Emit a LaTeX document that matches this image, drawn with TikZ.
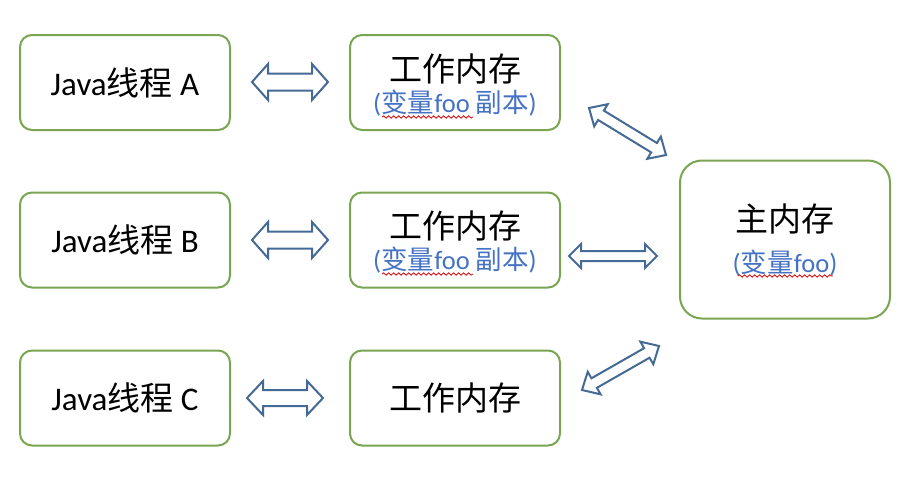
\documentclass[tikz,border=0pt]{standalone}
\usepackage{fontspec}
\setmainfont{Carlito}
\newfontfamily\cjk{Noto Sans CJK SC}
\usetikzlibrary{calc,decorations.pathmorphing}
\definecolor{boxgreen}{RGB}{122,165,82}
\definecolor{arrblue}{RGB}{70,106,150}
\definecolor{txtblue}{RGB}{68,114,196}
\newcommand\blockarrow[6]{% #1 name-tip1 #2 name-tip2 #3 shaft half #4 head half #5 head len
  \draw[blockarr] (#1) -- ($(#1)!#5!(#2)!#4!90:(#2)$) -- ($(#1)!#5!(#2)!#3!90:(#2)$)
    -- ($(#2)!#5!(#1)!#3!-90:(#1)$) -- ($(#2)!#5!(#1)!#4!-90:(#1)$) -- (#2)
    -- ($(#2)!#5!(#1)!#4!90:(#1)$) -- ($(#2)!#5!(#1)!#3!90:(#1)$)
    -- ($(#1)!#5!(#2)!#3!-90:(#2)$) -- ($(#1)!#5!(#2)!#4!-90:(#2)$) -- cycle;}
\begin{document}
\begin{tikzpicture}[x=1pt,y=-1pt,
  box/.style={draw=boxgreen,line width=2pt,rounded corners=12pt,fill=white,
    minimum width=210pt,minimum height=95pt,inner sep=0pt},
  mainbox/.style={box,rounded corners=22pt,minimum height=158pt},
  title/.style={font=\fontsize{33}{37}\selectfont,inner sep=0pt,text=black},
  sub/.style={font=\fontsize{26.5}{30}\selectfont,inner sep=0pt,text=txtblue},
  blockarr/.style={draw=arrblue,line width=2pt,fill=white,line join=miter},
  wavy/.style={draw=red!85!black,line width=0.8pt,decorate,
    decoration={snake,amplitude=1.2pt,segment length=5pt}}]
\useasboundingbox (0,0) rectangle (904,482);
\fill[white] (0,0) rectangle (904,482);
% left boxes
\node[box] (jA) at (125,82.5) {};
\node[box] (jB) at (125,240) {};
\node[box] (jC) at (125,398) {};
\node[title] (jAt) at (jA) {Java{\cjk 线程} A};
\node[title] (jBt) at (jB) {Java{\cjk 线程} B};
\node[title] (jCt) at (jC) {Java{\cjk 线程} C};
% middle boxes
\node[box] (wA) at (455,82.5) {};
\node[box] (wB) at (455,240) {};
\node[box] (wC) at (455,398) {};
\node[title] (wAt) at (455,69) {\cjk 工作内存};
\node[sub] (wAs) at (455,103) {({\cjk 变量}foo {\cjk 副本})};
\node[title] (wBt) at (455,226) {\cjk 工作内存};
\node[sub] (wBs) at (455,260) {({\cjk 变量}foo {\cjk 副本})};
\node[title] (wCt) at (wC) {\cjk 工作内存};
% main box
\node[mainbox] (m) at (785,239.5) {};
\node[title] (mt) at (785,219) {\cjk 主内存};
\node[sub] (ms) at (785,263) {({\cjk 变量}foo)};
% wavy underlines
\coordinate (u1a) at (382,117); \coordinate (u1b) at (473,117);
\coordinate (u2a) at (382,274); \coordinate (u2b) at (473,274);
\coordinate (u3a) at (738,276); \coordinate (u3b) at (833,276);
\draw[wavy] (u1a) -- (u1b);
\draw[wavy] (u2a) -- (u2b);
\draw[wavy] (u3a) -- (u3b);
% arrows
\coordinate (a1) at (252,82); \coordinate (a2) at (328,82);
\coordinate (b1) at (252,240); \coordinate (b2) at (328,240);
\coordinate (c1) at (247,398); \coordinate (c2) at (323,398);
\coordinate (d1) at (569,256); \coordinate (d2) at (657,256);
\coordinate (e1) at (589,108); \coordinate (e2) at (666,155);
\coordinate (f1) at (582,390); \coordinate (f2) at (659,346);
\blockarrow{a1}{a2}{8.5pt}{18pt}{16pt}{}
\blockarrow{b1}{b2}{8.5pt}{18pt}{16pt}{}
\blockarrow{c1}{c2}{8pt}{17pt}{16pt}{}
\blockarrow{d1}{d2}{5pt}{12pt}{12pt}{}
\blockarrow{e1}{e2}{5.5pt}{13pt}{14pt}{}
\blockarrow{f1}{f2}{5.5pt}{13pt}{14pt}{}
\end{tikzpicture}
\end{document}
